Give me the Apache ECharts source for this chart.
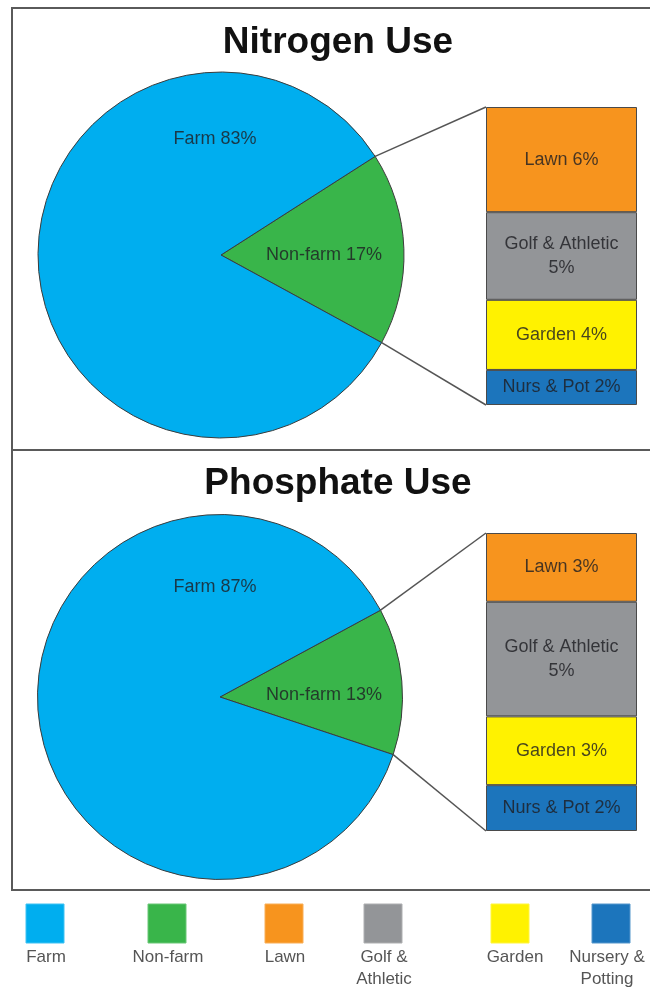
<!DOCTYPE html>
<html>
<head>
<meta charset="utf-8">
<title>Nitrogen and Phosphate Use</title>
<script src="https://cdn.jsdelivr.net/npm/echarts@6/dist/echarts.min.js"></script>
<style>
  html, body { margin: 0; padding: 0; background: #fff; }
  #chart { width: 650px; height: 989px; }
</style>
</head>
<body>
<div id="chart"></div>
<script>
// data
const pieNames = ['Non-farm', 'Farm']
const nitrogenShares = [17, 83]
const phosphateShares = [13, 87]
const subNames = ['Lawn', 'Golf & Athletic', 'Garden', 'Nurs & Pot']
const nitrogenSub = [6, 5, 4, 2]
const phosphateSub = [3, 5, 3, 2]
const titles = ['Nitrogen Use', 'Phosphate Use']
const legendNames = ['Farm', 'Non-farm', 'Lawn', 'Golf &\nAthletic', 'Garden', 'Nursery &\nPotting']

// colours
const pieColors = ['#39B54A', '#00AEEF']
const subColors = ['#F7941E', '#939598', '#FFF200', '#1C75BC']
const legendColors = ['#00AEEF', '#39B54A', '#F7941E', '#939598', '#FFF200', '#1C75BC']

const fontFamily = '"Liberation Sans", Arial, sans-serif'
const textColor = 'rgba(30,30,35,0.82)'

// layout of the two panels
const panels = [
  { title: titles[0], shares: nitrogenShares, sub: nitrogenSub, cx: 221, cy: 255, r: 183, mid: 2, titleY: 24, barTop: 107, farmOff: [-6, -116], nonOff: [103, 0] },
  { title: titles[1], shares: phosphateShares, sub: phosphateSub, cx: 220, cy: 697, r: 182.5, mid: 5, titleY: 465, barTop: 533, farmOff: [-5, -110], nonOff: [104, -2] }
]
const barLeft = 486
const barWidth = 151
const barHeight = 298

const chart = echarts.init(document.getElementById('chart'), null, { renderer: 'canvas' })

const series = []
const grid = []
const xAxis = []
const yAxis = []
const graphic = []
const title = []

panels.forEach((p, i) => {
  const startAngle = p.mid + p.shares[0] * 1.8
  const endAngle = startAngle - p.shares[0] * 3.6

  title.push({
    text: p.title,
    left: 338,
    top: p.titleY,
    textAlign: 'center',
    padding: 0,
    textStyle: { fontFamily, fontSize: 37, fontWeight: 'bold', color: '#111' }
  })

  series.push({
    type: 'pie',
    center: [p.cx, p.cy],
    radius: p.r,
    startAngle,
    clockwise: true,
    silent: true,
    animation: false,
    data: pieNames.map((n, j) => ({ name: n, value: p.shares[j], itemStyle: { color: pieColors[j] } })),
    itemStyle: { borderColor: '#3c3c3c', borderWidth: 1 },
    label: {
      show: true,
      position: 'inside',
      formatter: '{b} {c}%',
      fontFamily,
      fontSize: 18,
      color: textColor
    },
    labelLine: { show: false },
    labelLayout: params => {
      const off = params.dataIndex === 0 ? p.nonOff : p.farmOff
      return { x: p.cx + off[0], y: p.cy + off[1], align: 'center', verticalAlign: 'middle' }
    }
  })

  // connector lines from the wedge edges to the stacked bar
  const toRad = Math.PI / 180
  const edges = [startAngle, endAngle].map(a => [p.cx + p.r * Math.cos(a * toRad), p.cy - p.r * Math.sin(a * toRad)])
  graphic.push({
    type: 'line', silent: true, z: 1,
    shape: { x1: edges[0][0], y1: edges[0][1], x2: barLeft, y2: p.barTop },
    style: { stroke: '#555', lineWidth: 1.5 }
  })
  graphic.push({
    type: 'line', silent: true, z: 1,
    shape: { x1: edges[1][0], y1: edges[1][1], x2: barLeft, y2: p.barTop + barHeight },
    style: { stroke: '#555', lineWidth: 1.5 }
  })

  grid.push({ left: barLeft, top: p.barTop, width: barWidth, height: barHeight })
  xAxis.push({ type: 'category', gridIndex: i, data: [''], show: false })
  yAxis.push({
    type: 'value', gridIndex: i, inverse: true, show: false,
    min: 0, max: p.sub.reduce((a, b) => a + b, 0)
  })

  subNames.forEach((n, j) => {
    series.push({
      type: 'bar',
      name: n,
      xAxisIndex: i,
      yAxisIndex: i,
      stack: 'sub' + i,
      barWidth: '100%',
      silent: true,
      animation: false,
      data: [p.sub[j]],
      itemStyle: { color: subColors[j], borderColor: '#4a4a4a', borderWidth: 1 },
      label: {
        show: true,
        position: 'inside',
        formatter: params => n.length > 12 ? n + '\n' + params.value + '%' : n + ' ' + params.value + '%',
        fontFamily,
        fontSize: 18,
        lineHeight: 24,
        color: textColor
      }
    })
  })
})

// panel frames
graphic.push({
  type: 'polyline', silent: true,
  shape: { points: [[650, 8], [12, 8], [12, 890], [650, 890]] },
  style: { stroke: '#5a5a5a', lineWidth: 2, fill: null }
})
graphic.push({
  type: 'line', silent: true,
  shape: { x1: 12, y1: 450, x2: 650, y2: 450 },
  style: { stroke: '#5a5a5a', lineWidth: 2 }
})

// legend below the panels
const legendLeft = [26, 148, 265, 364, 491, 592]
const legendTextX = [46, 168, 285, 384, 515, 607]
legendNames.forEach((n, i) => {
  graphic.push({
    type: 'rect', silent: true,
    shape: { x: legendLeft[i], y: 904, width: 38, height: 39 },
    style: { fill: legendColors[i], stroke: echarts.color.lift(legendColors[i], 0.25), lineWidth: 1 }
  })
  graphic.push({
    type: 'text', silent: true,
    x: legendTextX[i], y: 946,
    style: {
      text: n, fontFamily, fontSize: 17, lineHeight: 22,
      fill: '#555', align: 'center', verticalAlign: 'top'
    }
  })
})

chart.setOption({
  backgroundColor: '#fff',
  animation: false,
  title,
  grid,
  xAxis,
  yAxis,
  series,
  graphic
})
</script>
</body>
</html>
